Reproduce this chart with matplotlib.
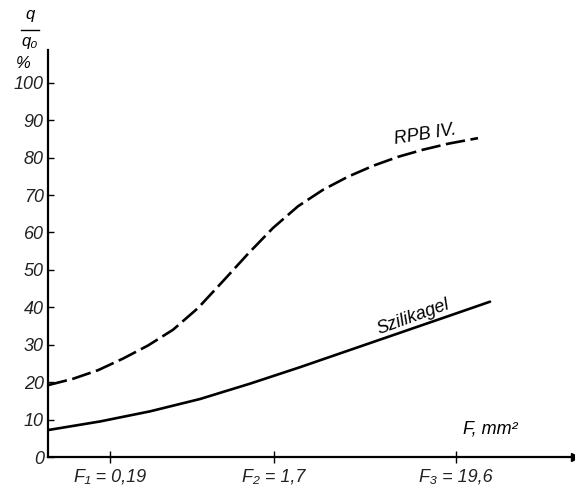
import matplotlib.pyplot as plt

plt.rcParams['font.family'] = ['Liberation Sans Narrow', 'Liberation Sans', 'DejaVu Sans']
plt.rcParams['lines.scale_dashes'] = False

# RPB IV. (dashed curve)
rpb_F = [0.0828, 0.1158, 0.1619, 0.2263, 0.3163, 0.4419, 0.6178, 0.8637, 1.207,
         1.687, 2.359, 3.297, 4.608, 6.442, 9.003, 12.58, 17.59, 26.29]
rpb_q = [19.2, 20.9, 23.2, 26.3, 29.8, 34.0, 39.8, 47.0, 54.3,
         61.2, 67.0, 71.4, 74.9, 77.8, 80.2, 82.1, 83.7, 85.2]

# Szilikagel (solid curve)
szi_F = [0.0828, 0.1663, 0.3248, 0.6348, 1.240, 2.423, 4.733, 9.248, 18.07, 30.88]
szi_q = [7.2, 9.5, 12.2, 15.5, 19.6, 24.0, 28.6, 33.2, 37.8, 41.5]

y_ticks = [0, 10, 20, 30, 40, 50, 60, 70, 80, 90, 100]
x_ticks = [0.19, 1.7, 19.6]
x_labels = ['F₁ = 0,19', 'F₂ = 1,7', 'F₃ = 19,6']

fig = plt.figure(figsize=(5.75, 4.93), dpi=100)
ax = fig.add_axes([0.0835, 0.073, 0.9165, 0.826])

ax.plot(szi_F, szi_q, color='black', lw=1.9, solid_capstyle='round', solid_joinstyle='round')
ax.plot(rpb_F, rpb_q, color='black', lw=1.9, dashes=(14, 4), dash_joinstyle='round')

ax.set_xscale('log')
ax.set_xlim(0.0828, 96.4)
ax.set_ylim(0, 108.8)

ax.spines['top'].set_visible(False)
ax.spines['right'].set_visible(False)
ax.spines['left'].set_linewidth(1.6)
ax.spines['bottom'].set_linewidth(1.6)
ax.plot(1, 0, '>k', markersize=6, transform=ax.get_yaxis_transform(), clip_on=False)

ax.set_yticks(y_ticks)
ax.set_yticklabels([str(v) for v in y_ticks], fontsize=13, style='italic', color='#222222')
ax.tick_params(axis='y', direction='in', length=4, width=1, pad=3)

ax.set_xticks(x_ticks)
ax.set_xticklabels(x_labels, fontsize=13, style='italic', color='#222222')
ax.xaxis.set_minor_locator(plt.NullLocator())
ax.tick_params(axis='x', direction='inout', length=9, width=1, pad=4)

# axis titles
fig.text(0.052, 0.97, 'q', fontsize=12, style='italic', ha='center', va='center')
fig.add_artist(plt.Line2D([0.037, 0.068], [0.94, 0.94], color='black', lw=1))
fig.text(0.052, 0.915, 'q₀', fontsize=12, style='italic', ha='center', va='center')
fig.text(0.040, 0.872, '%', fontsize=12, style='italic', ha='center', va='center')
ax.text(30.9, 7.5, 'F, mm²', fontsize=13, style='italic', ha='center', va='center')

# curve labels
ax.text(12.93, 86.1, 'RPB IV.', fontsize=13, style='italic', rotation=9, ha='center', va='center')
ax.text(11.01, 37.3, 'Szilikagel', fontsize=13, style='italic', rotation=20, ha='center', va='center')

fig.savefig('out.png', dpi=100)
